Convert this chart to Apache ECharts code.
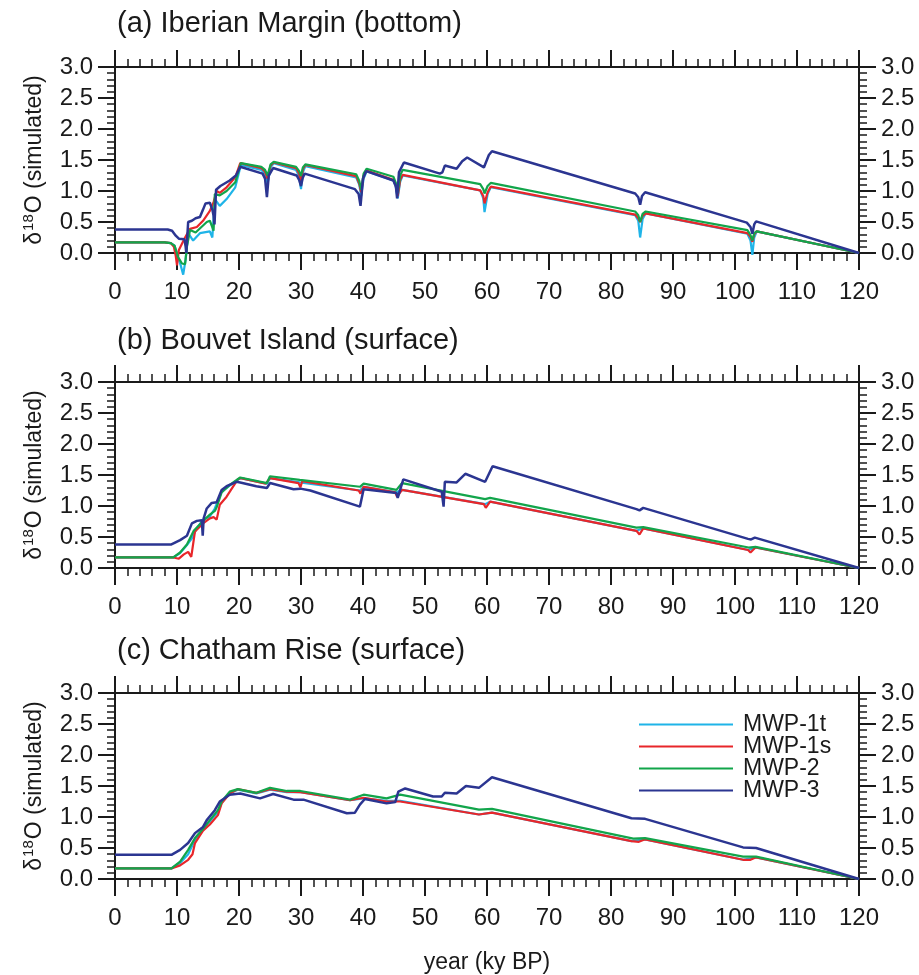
<!DOCTYPE html>
<html><head><meta charset="utf-8">
<script src="https://cdn.jsdelivr.net/npm/echarts@6/dist/echarts.min.js"></script>
<style>html,body{margin:0;padding:0;background:#fff}#c{width:919px;height:975px}</style>
</head><body><div id="c"></div>
<script>
var seriesNames = ['MWP-1t', 'MWP-1s', 'MWP-2', 'MWP-3'];
var panelTitles = ['(a) Iberian Margin (bottom)', '(b) Bouvet Island (surface)', '(c) Chatham Rise (surface)'];
var xTicks = [0, 10, 20, 30, 40, 50, 60, 70, 80, 90, 100, 110, 120];
var yTicks = [0.0, 0.5, 1.0, 1.5, 2.0, 2.5, 3.0];

// Panel (a) Iberian Margin (bottom)
var a_1t = [[0,0.17],[8,0.17],[9,0.16],[9.6,0.12],[10.1,-0.05],[10.6,-0.2],[11,-0.35],[11.4,-0.1],[11.8,0.32],[12.6,0.2],[13.7,0.32],[15.3,0.35],[15.7,0.25],[16.1,0.87],[16.9,0.76],[18,0.87],[19.4,1.06],[20.3,1.42],[23.6,1.34],[24.2,1.28],[24.45,1.18],[24.6,1.12],[25.1,1.38],[25.6,1.45],[29.2,1.34],[29.7,1.24],[30,1.03],[30.3,1.3],[30.7,1.4],[38.9,1.22],[39.4,1.1],[39.7,0.92],[40.1,1.2],[40.6,1.32],[44.9,1.17],[45.3,1.06],[45.6,0.88],[46,1.15],[46.4,1.25],[58.9,1.01],[59.4,0.88],[59.6,0.66],[60.1,0.95],[60.6,1.06],[83.9,0.61],[84.4,0.52],[84.7,0.25],[85.1,0.55],[85.6,0.64],[102,0.31],[102.5,0.2],[102.8,-0.03],[103.1,0.25],[103.5,0.35],[120,0.0]];
var a_1s = [[0,0.17],[8,0.17],[9,0.16],[9.5,0.1],[9.8,-0.05],[10,-0.2],[10.3,0.05],[10.8,0.15],[11.3,0.25],[12.1,0.39],[13.2,0.42],[14.2,0.52],[15.3,0.68],[15.9,0.82],[16.4,1.0],[16.9,0.97],[18,1.06],[19.4,1.22],[20.2,1.45],[23.6,1.37],[24.2,1.31],[24.6,1.2],[25.1,1.41],[25.6,1.46],[29.2,1.37],[29.7,1.28],[30,1.12],[30.3,1.35],[30.7,1.42],[38.9,1.24],[39.4,1.12],[39.7,0.98],[40.1,1.25],[40.6,1.33],[44.9,1.18],[45.3,1.08],[45.6,0.92],[46,1.18],[46.4,1.26],[58.9,1.01],[59.4,0.92],[59.6,0.8],[60.1,0.98],[60.6,1.07],[83.9,0.62],[84.4,0.56],[84.7,0.5],[85.1,0.6],[85.6,0.64],[102,0.32],[102.5,0.26],[102.8,0.18],[103.1,0.3],[103.5,0.35],[120,0.0]];
var a_2 = [[0,0.17],[8,0.17],[9,0.16],[9.6,0.12],[10.2,-0.07],[10.8,-0.17],[11.3,-0.18],[11.6,0.1],[12.1,0.37],[13,0.33],[14.8,0.5],[15.3,0.52],[15.9,0.36],[16.1,0.95],[16.9,0.93],[18,1.0],[19.4,1.14],[20.3,1.45],[23.6,1.39],[24.2,1.34],[24.6,1.25],[25.1,1.43],[25.6,1.47],[29.2,1.39],[29.7,1.32],[30,1.24],[30.3,1.38],[30.7,1.43],[38.9,1.27],[39.4,1.16],[39.7,1.02],[40.1,1.28],[40.6,1.36],[44.9,1.23],[45.3,1.13],[45.6,0.97],[46,1.25],[46.4,1.34],[58.9,1.11],[59.4,1.03],[59.6,0.96],[60.1,1.08],[60.6,1.13],[83.9,0.67],[84.4,0.61],[84.7,0.5],[85.1,0.63],[85.6,0.67],[102,0.37],[102.5,0.29],[102.8,0.2],[103.1,0.32],[103.5,0.35],[120,0.0]];
var a_3 = [[0,0.38],[8.5,0.38],[9.2,0.36],[9.8,0.28],[10.3,0.23],[11.2,0.22],[11.4,0.1],[11.5,0.0],[11.8,0.5],[12.4,0.52],[13,0.56],[13.7,0.58],[14.2,0.7],[14.6,0.8],[15.3,0.81],[15.7,0.7],[15.9,0.6],[16.05,0.46],[16.3,1.02],[17,1.08],[18.5,1.17],[19.5,1.25],[20.2,1.39],[23.8,1.28],[24.2,1.2],[24.5,0.9],[24.8,1.25],[25.5,1.37],[29.3,1.25],[29.7,1.18],[30,1.08],[30.3,1.22],[30.6,1.28],[38.7,1.03],[39.3,0.95],[39.6,0.76],[40,1.2],[40.5,1.32],[44.9,1.17],[45.3,1.08],[45.5,0.88],[45.8,1.3],[46.6,1.46],[52.4,1.28],[52.8,1.3],[53.2,1.41],[55.1,1.36],[56,1.48],[56.8,1.54],[59.5,1.38],[59.8,1.36],[60.3,1.58],[60.8,1.64],[83.9,0.96],[84.4,0.9],[84.7,0.78],[85,0.92],[85.5,0.98],[101.9,0.49],[102.5,0.42],[102.8,0.31],[103.1,0.46],[103.4,0.51],[120,0.0]];

// Panel (b) Bouvet Island (surface)
var b_1t = [[0,0.17],[9.4,0.17],[10.5,0.24],[11.6,0.37],[12.4,0.48],[13.2,0.64],[14.2,0.78],[15.3,0.83],[16.1,0.96],[17.2,1.23],[18.5,1.33],[20.2,1.45],[24.5,1.36],[25,1.45],[29.8,1.38],[39.5,1.25],[40.1,1.31],[45.4,1.22],[46.3,1.26],[59.7,1.03],[60.5,1.07],[84.1,0.6],[85.2,0.64],[102.2,0.29],[103.3,0.33],[120,0.0]];
var b_1s = [[0,0.17],[9.4,0.17],[10.3,0.15],[11.1,0.22],[11.8,0.26],[12.3,0.18],[12.9,0.59],[14.2,0.72],[15.3,0.8],[15.9,0.82],[16.4,0.78],[16.9,1.02],[18,1.15],[19.8,1.43],[20.3,1.45],[24.3,1.36],[24.5,1.33],[25,1.45],[29.6,1.37],[29.9,1.3],[30.2,1.4],[39.3,1.25],[39.6,1.2],[40.1,1.31],[45.2,1.22],[45.5,1.15],[46.3,1.26],[59.5,1.03],[59.8,0.97],[60.5,1.07],[84.1,0.6],[84.6,0.54],[85.2,0.64],[102.1,0.29],[102.5,0.25],[103.3,0.33],[120,0.0]];
var b_2 = [[0,0.17],[9.4,0.17],[10.5,0.25],[11.6,0.38],[12.7,0.6],[14.2,0.76],[15.3,0.86],[16.1,0.92],[16.4,0.98],[17.2,1.22],[18.5,1.34],[20.2,1.46],[24.5,1.37],[25,1.48],[29.8,1.42],[39.5,1.31],[40.1,1.36],[45.4,1.26],[46.3,1.37],[59.7,1.11],[60.5,1.13],[84.1,0.65],[85.2,0.66],[102.2,0.33],[103.3,0.34],[120,0.0]];
var b_3 = [[0,0.38],[9.1,0.38],[10.5,0.45],[11.6,0.52],[11.9,0.51],[12.4,0.72],[13.2,0.76],[14,0.77],[14.15,0.52],[14.3,0.8],[14.8,0.96],[15.6,1.05],[16.4,1.06],[17.2,1.26],[18,1.32],[19.6,1.39],[20.2,1.38],[22.8,1.32],[24.5,1.29],[25,1.37],[28.8,1.27],[29.9,1.28],[31.5,1.25],[39.5,0.99],[40.1,1.27],[45.4,1.21],[45.6,1.13],[46.5,1.43],[52.7,1.23],[53,0.99],[53.2,1.39],[55.1,1.38],[56.5,1.52],[59.7,1.39],[60.9,1.64],[84.1,0.95],[84.6,0.93],[85.2,0.97],[102.1,0.47],[102.6,0.46],[103.2,0.49],[120,0.0]];

// Panel (c) Chatham Rise (surface)
var c_1t = [[0,0.17],[9.1,0.17],[10.5,0.26],[11.8,0.4],[12.9,0.63],[14.2,0.8],[15.3,0.93],[16.6,1.08],[17.2,1.23],[18.5,1.38],[19.8,1.44],[22.8,1.38],[25,1.44],[27.7,1.4],[29.9,1.4],[37.9,1.27],[40.1,1.3],[43.8,1.26],[46,1.26],[58.7,1.04],[60.8,1.07],[83.3,0.61],[85.5,0.64],[101.3,0.31],[103.4,0.35],[120,0.0]];
var c_1s = [[0,0.17],[9.1,0.17],[10.5,0.22],[11.8,0.31],[12.5,0.4],[12.9,0.58],[14.2,0.78],[15.3,0.88],[16.6,1.03],[17.2,1.22],[18.5,1.38],[19.8,1.45],[22.8,1.39],[25,1.45],[27.7,1.41],[29.9,1.4],[37.9,1.27],[40.1,1.31],[43.8,1.25],[46,1.25],[58.7,1.04],[60.8,1.07],[83.3,0.61],[84.5,0.6],[85.5,0.64],[101.3,0.31],[102.5,0.31],[103.4,0.35],[120,0.0]];
var c_2 = [[0,0.17],[9.1,0.17],[10.5,0.28],[11.8,0.47],[12.9,0.66],[14.2,0.81],[15.3,0.95],[16.6,1.11],[17.2,1.25],[18.5,1.41],[19.8,1.45],[22.8,1.39],[25,1.47],[27.7,1.42],[29.9,1.42],[37.9,1.28],[40.1,1.36],[43.8,1.3],[46,1.36],[58.7,1.12],[60.8,1.13],[83.6,0.65],[85.5,0.66],[101.3,0.36],[103.4,0.36],[120,0.0]];
var c_3 = [[0,0.39],[9.1,0.39],[10.5,0.47],[11.8,0.58],[12.9,0.74],[14.2,0.84],[14.8,0.95],[16.1,1.11],[16.9,1.25],[18.5,1.36],[20.2,1.38],[23.4,1.3],[25.5,1.37],[28.8,1.28],[30.4,1.28],[37.4,1.06],[38.7,1.07],[39.5,1.2],[40.3,1.29],[43.8,1.22],[45.2,1.24],[45.7,1.41],[46.8,1.46],[51.3,1.33],[52.7,1.33],[53.2,1.39],[55.1,1.38],[56.6,1.5],[58.7,1.47],[60.8,1.64],[83.3,0.98],[85.5,0.97],[101.3,0.51],[103.4,0.5],[120,0.0]];

var panelData = [[a_1t, a_1s, a_2, a_3], [b_1t, b_1s, b_2, b_3], [c_1t, c_1s, c_2, c_3]];
var colors = ['#1fb4e8', '#e8262a', '#12a54b', '#2b3591'];

var FONT = '"Liberation Sans", Arial, Helvetica, sans-serif';
var INK = '#1a1a1a';
var gridTops = [67, 382, 693];
var gridH = 186;

var grids = [], xAxes = [], yAxes = [], series = [], titles = [];
var titleTops = [4, 321, 631];

function xAx(i, pos) {
  return {
    gridIndex: i, type: 'value', position: pos, min: xTicks[0], max: xTicks[xTicks.length - 1], interval: 10,
    axisLine: {show: true, onZero: false, lineStyle: {color: INK, width: 2}},
    axisTick: {show: true, inside: false, length: 17, lineStyle: {color: INK, width: 2}},
    minorTick: {show: true, splitNumber: 5, length: 8, lineStyle: {color: INK, width: 1.5}},
    axisLabel: {show: pos === 'bottom', fontSize: 24, fontFamily: FONT, color: INK, margin: 27},
    splitLine: {show: false}, minorSplitLine: {show: false}
  };
}
function yAx(i, pos) {
  var o = {
    gridIndex: i, type: 'value', position: pos, min: yTicks[0], max: yTicks[yTicks.length - 1], interval: 0.5,
    axisLine: {show: true, onZero: false, lineStyle: {color: INK, width: 2}},
    axisTick: {show: true, inside: false, length: 17, lineStyle: {color: INK, width: 2}},
    minorTick: {show: true, splitNumber: 5, length: 8, lineStyle: {color: INK, width: 1.5}},
    axisLabel: {show: true, fontSize: 24, fontFamily: FONT, color: INK, margin: 22,
      formatter: function (v) { return v.toFixed(1); }},
    splitLine: {show: false}, minorSplitLine: {show: false}
  };
  if (pos === 'left') {
    o.name = '{d|δ}{s|18}{d|O (simulated)}';
    o.nameLocation = 'middle';
    o.nameGap = 67;
    o.nameRotate = 90;
    o.nameTextStyle = {
      fontFamily: FONT, color: INK,
      rich: {
        d: {fontSize: 23, fontFamily: FONT, color: INK, lineHeight: 26},
        s: {fontSize: 15, fontFamily: FONT, color: INK, lineHeight: 26, padding: [0, 1, 12, 1]}
      }
    };
  }
  return o;
}

for (var i = 0; i < 3; i++) {
  grids.push({left: 115, right: 60, top: gridTops[i], height: gridH, containLabel: false});
  var xb = xAx(i, 'bottom');
  if (i === 2) {
    xb.name = 'year (ky BP)';
    xb.nameLocation = 'middle';
    xb.nameGap = 72;
    xb.nameTextStyle = {fontSize: 23, fontFamily: FONT, color: INK};
  }
  xAxes.push(xb);
  xAxes.push(xAx(i, 'top'));
  yAxes.push(yAx(i, 'left'));
  yAxes.push(yAx(i, 'right'));
  titles.push({text: panelTitles[i], left: 112, top: titleTops[i],
    textStyle: {fontSize: 29, fontWeight: 'normal', fontFamily: FONT, color: INK}});
  for (var k = 0; k < 4; k++) {
    series.push({
      name: seriesNames[k], type: 'line', xAxisIndex: 2 * i, yAxisIndex: 2 * i,
      data: panelData[i][k], showSymbol: false, symbol: 'none', clip: false,
      lineStyle: {color: colors[k], width: k === 3 ? 2.5 : 2.2}, itemStyle: {color: colors[k]},
      z: 2 + k, animation: false
    });
  }
}

var chart = echarts.init(document.getElementById('c'), null, {renderer: 'canvas'});
chart.setOption({
  backgroundColor: '#fff',
  animation: false,
  title: titles,
  grid: grids,
  xAxis: xAxes,
  yAxis: yAxes,
  legend: {
    data: seriesNames, orient: 'vertical', left: 639, top: 713, padding: 0,
    itemWidth: 94, itemHeight: 20, itemGap: -1, icon: 'path://M0,9 L94,9 L94,11 L0,11 Z',
    textStyle: {fontSize: 23, fontFamily: FONT, color: INK, padding: [0, 0, 0, 5], lineHeight: 20},
    selectedMode: false
  },
  series: series
});
</script>
</body></html>
